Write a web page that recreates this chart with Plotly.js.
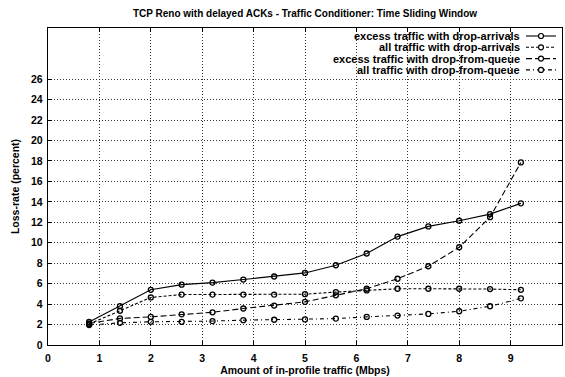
<!DOCTYPE html>
<html>
<head>
<meta charset="utf-8">
<script src="https://cdn.plot.ly/plotly-3.0.1.min.js"></script>
<style>html,body{margin:0;padding:0;background:#fff;}#chart{width:565px;height:377px;}</style>
</head>
<body>
<div id="chart"></div>
<script>
// ---- data ----
const xValues = [0.8, 1.4, 2.0, 2.6, 3.2, 3.8, 4.4, 5.0, 5.6, 6.2, 6.8, 7.4, 8.0, 8.6, 9.2];
const excessDropArrivals = [2.25, 3.8, 5.4, 5.9, 6.1, 6.4, 6.7, 7.05, 7.8, 8.95, 10.6, 11.6, 12.15, 12.8, 13.85];
const allDropArrivals   = [2.05, 3.35, 4.65, 4.93, 4.93, 4.93, 4.93, 4.97, 5.18, 5.34, 5.5, 5.5, 5.5, 5.47, 5.4];
const excessDropQueue   = [2.1, 2.6, 2.75, 3.0, 3.2, 3.57, 3.86, 4.22, 4.86, 5.5, 6.48, 7.7, 9.56, 12.5, 17.85];
const allDropQueue      = [1.95, 2.17, 2.27, 2.27, 2.34, 2.43, 2.47, 2.5, 2.58, 2.75, 2.88, 3.04, 3.3, 3.79, 4.56];
const seriesNames = [
  "excess traffic with drop-arrivals",
  "all traffic with drop-arrivals",
  "excess traffic with drop-from-queue",
  "all traffic with drop-from-queue"
];
const xTicks = [0,1,2,3,4,5,6,7,8,9,10];
const yTicks = [0,2,4,6,8,10,12,14,16,18,20,22,24,26];

// ---- styles ----
const dashes = ["solid", "3px,2px", "6px,3px", "4px,3px,1px,3px"];
const seriesValues = [excessDropArrivals, allDropArrivals, excessDropQueue, allDropQueue];
const font = "Liberation Sans, Arial, sans-serif";

const traces = seriesValues.map((ys, i) => ({
  x: xValues, y: ys, type: "scatter", mode: "lines+markers", name: seriesNames[i],
  line: {color: "#000", width: 1.1, dash: dashes[i]},
  marker: {symbol: "circle-open", size: 5, color: "#000", line: {width: 1.3, color: "#000"}},
  showlegend: false
}));

// custom legend (text, then line sample to its right)
const W = 565, H = 377, mL = 48, mR = 3, mT = 28, mB = 32;
const pw = W - mL - mR, ph = H - mT - mB;
const px = v => (v - mL) / pw;
const py = v => (H - mB - v) / ph;
const rowY = [36, 47.3, 58.6, 69.9];
const annotations = [], shapes = [];
seriesNames.forEach((n, i) => {
  annotations.push({xref: "paper", yref: "paper", x: px(522), y: py(rowY[i]), xanchor: "right", yanchor: "middle",
    text: n, showarrow: false, font: {family: font, size: 11, color: "#000", weight: "bold"}});
  shapes.push({type: "line", xref: "paper", yref: "paper", x0: px(526), x1: px(556), y0: py(rowY[i]), y1: py(rowY[i]),
    line: {color: "#000", width: 1.1, dash: dashes[i]}});
  shapes.push({type: "circle", xref: "paper", yref: "paper", xsizemode: "pixel", ysizemode: "pixel",
    xanchor: px(541), yanchor: py(rowY[i]), x0: -2.5, x1: 2.5, y0: -2.5, y1: 2.5,
    fillcolor: "#fff", line: {color: "#000", width: 1.2}});
});

const axisCommon = {
  showline: true, mirror: "ticks", linecolor: "#000", linewidth: 1.3,
  ticks: "inside", ticklen: 4, tickcolor: "#000",
  showgrid: true, gridcolor: "#333", griddash: "1px,2px", gridwidth: 1,
  zeroline: false, tickfont: {family: font, size: 10.5, color: "#000", weight: "bold"}
};

const layout = {
  width: W, height: H,
  margin: {l: mL, r: mR, t: mT, b: mB, pad: 0},
  paper_bgcolor: "#fff", plot_bgcolor: "#fff",
  title: {text: "TCP Reno with delayed ACKs - Traffic Conditioner: Time Sliding Window",
    x: 0.5, xref: "paper", xanchor: "center", y: 1 - 13/377, yref: "container", yanchor: "middle",
    font: {family: font, size: 10, color: "#000", weight: "bold"}},
  xaxis: Object.assign({}, axisCommon, {range: [0, 10], tickvals: xTicks, ticktext: xTicks.map(String),
    ticklabelstandoff: 3,
    title: {text: "Amount of in-profile traffic (Mbps)", standoff: 2, font: {family: font, size: 10.5, color: "#000", weight: "bold"}}}),
  yaxis: Object.assign({}, axisCommon, {range: [0, 31], tickvals: yTicks, ticktext: yTicks.map(String),
    ticklabelstandoff: 2,
    title: {text: "Loss-rate (percent)", standoff: 9, font: {family: font, size: 10.5, color: "#000", weight: "bold"}}}),
  annotations: annotations,
  shapes: shapes,
  showlegend: false
};

Plotly.newPlot("chart", traces, layout, {staticPlot: true, displayModeBar: false});
</script>
</body>
</html>
